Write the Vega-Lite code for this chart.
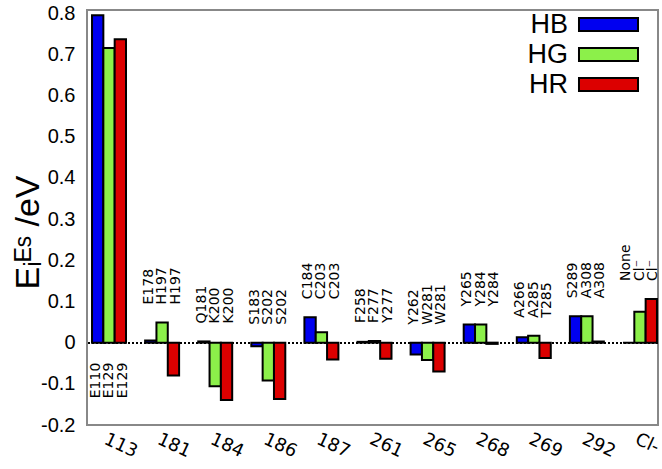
{
  "$schema": "https://vega.github.io/schema/vega-lite/v6.json",
  "autosize": {"type": "none"},
  "padding": {"left": 87, "top": 10, "right": 4, "bottom": 44},
  "width": 571,
  "height": 415,
  "background": "white",
  "config": {
    "view": {"stroke": "#888888", "strokeWidth": 2},
    "axis": {"grid": false}
  },
  "data": {
    "values": [
      {"group": "113", "series": "HB", "value": 0.795, "label": "E110"},
      {"group": "113", "series": "HG", "value": 0.716, "label": "E129"},
      {"group": "113", "series": "HR", "value": 0.737, "label": "E129"},
      {"group": "181", "series": "HB", "value": 0.005, "label": "E178"},
      {"group": "181", "series": "HG", "value": 0.049, "label": "H197"},
      {"group": "181", "series": "HR", "value": -0.08, "label": "H197"},
      {"group": "184", "series": "HB", "value": 0.003, "label": "Q181"},
      {"group": "184", "series": "HG", "value": -0.106, "label": "K200"},
      {"group": "184", "series": "HR", "value": -0.139, "label": "K200"},
      {"group": "186", "series": "HB", "value": -0.009, "label": "S183"},
      {"group": "186", "series": "HG", "value": -0.092, "label": "S202"},
      {"group": "186", "series": "HR", "value": -0.137, "label": "S202"},
      {"group": "187", "series": "HB", "value": 0.062, "label": "C184"},
      {"group": "187", "series": "HG", "value": 0.025, "label": "C203"},
      {"group": "187", "series": "HR", "value": -0.041, "label": "C203"},
      {"group": "261", "series": "HB", "value": 0.002, "label": "F258"},
      {"group": "261", "series": "HG", "value": 0.004, "label": "F277"},
      {"group": "261", "series": "HR", "value": -0.039, "label": "Y277"},
      {"group": "265", "series": "HB", "value": -0.029, "label": "Y262"},
      {"group": "265", "series": "HG", "value": -0.042, "label": "W281"},
      {"group": "265", "series": "HR", "value": -0.07, "label": "W281"},
      {"group": "268", "series": "HB", "value": 0.044, "label": "Y265"},
      {"group": "268", "series": "HG", "value": 0.044, "label": "Y284"},
      {"group": "268", "series": "HR", "value": -0.003, "label": "Y284"},
      {"group": "269", "series": "HB", "value": 0.013, "label": "A266"},
      {"group": "269", "series": "HG", "value": 0.017, "label": "A285"},
      {"group": "269", "series": "HR", "value": -0.037, "label": "T285"},
      {"group": "292", "series": "HB", "value": 0.064, "label": "S289"},
      {"group": "292", "series": "HG", "value": 0.064, "label": "A308"},
      {"group": "292", "series": "HR", "value": 0.003, "label": "A308"},
      {"group": "Cl-", "series": "HB", "value": 0.0, "label": "None"},
      {"group": "Cl-", "series": "HG", "value": 0.075, "label": "Cl⁻"},
      {"group": "Cl-", "series": "HR", "value": 0.106, "label": "Cl⁻"}
    ]
  },
  "encoding": {
    "x": {
      "field": "group", "type": "nominal", "sort": null,
      "scale": {"paddingInner": 0.36, "paddingOuter": 0.057, "align": 0.83},
      "axis": {
        "title": null, "domain": false, "ticks": false,
        "labelAngle": 25, "labelFontSize": 18, "labelFont": "DejaVu Sans",
        "labelColor": "black", "labelPadding": 5
      }
    }
  },
  "layer": [
    {
      "mark": {"type": "rule", "strokeDash": [2, 2], "color": "black", "strokeWidth": 1},
      "encoding": {"y": {"datum": 0, "type": "quantitative"}, "x": null}
    },
    {
      "mark": {"type": "bar", "stroke": "black", "strokeWidth": 2},
      "encoding": {
        "xOffset": {"field": "series", "type": "nominal", "sort": ["HB", "HG", "HR"], "scale": {"paddingInner": 0, "paddingOuter": 0}},
        "y": {
          "field": "value", "type": "quantitative",
          "scale": {"domain": [-0.2, 0.808], "nice": false, "zero": false},
          "axis": {
            "values": [-0.2, -0.1, 0, 0.1, 0.2, 0.3, 0.4, 0.5, 0.6, 0.7, 0.8],
            "labelExpr": "replace(format(datum.value, '.1~f'), '−', '-')",
            "domain": false, "ticks": false,
            "labelFontSize": 20, "labelFont": "Liberation Sans", "labelColor": "black",
            "labelPadding": 12,
            "title": "Eᵢᴱˢ /eV", "titleFontSize": 34, "titleFont": "Liberation Sans",
            "titleFontWeight": "normal", "titleColor": "black",
            "titleX": -42, "titleY": 222
          }
        },
        "color": {
          "field": "series", "type": "nominal",
          "scale": {"domain": ["HB", "HG", "HR"], "range": ["#0000f0", "#8cf04a", "#dc0000"]},
          "legend": {
            "title": null, "orient": "none", "legendX": 508, "legendY": 1,
            "padding": 0,
            "symbolType": "M-4.54,-1H4.54V1H-4.54Z", "symbolSize": 169,
            "symbolStrokeColor": "black", "symbolStrokeWidth": 2,
            "symbolOpacity": 1,
            "labelAlign": "right", "labelOffset": -54,
            "labelFontSize": 27, "labelFont": "Liberation Sans", "labelColor": "black",
            "rowPadding": 2
          }
        }
      }
    },
    {
      "transform": [
        {"filter": "datum.group != '113'"},
        {"joinaggregate": [{"op": "max", "field": "value", "as": "gmax"}], "groupby": ["group"]},
        {"pivot": "series", "value": "label", "groupby": ["group", "gmax"], "op": "max"},
        {"calculate": "max(datum.gmax, 0)", "as": "base"},
        {"calculate": "[datum.HB, datum.HG, datum.HR]", "as": "lines"}
      ],
      "mark": {"type": "text", "angle": 270, "align": "left", "baseline": "middle", "dx": 18, "dy": -13.5, "font": "DejaVu Sans", "fontSize": 14, "lineHeight": 13.5, "color": "black"},
      "encoding": {
        "y": {"field": "base", "type": "quantitative"},
        "text": {"field": "lines", "type": "nominal"}
      }
    },
    {
      "transform": [
        {"filter": "datum.group == '113'"},
        {"pivot": "series", "value": "label", "groupby": ["group"], "op": "max"},
        {"calculate": "[datum.HB, datum.HG, datum.HR]", "as": "lines"}
      ],
      "mark": {"type": "text", "angle": 270, "align": "right", "baseline": "middle", "dx": -20, "dy": -13.5, "font": "DejaVu Sans", "fontSize": 14, "lineHeight": 13.5, "color": "black"},
      "encoding": {
        "y": {"datum": 0, "type": "quantitative"},
        "text": {"field": "lines", "type": "nominal"}
      }
    }
  ]
}
